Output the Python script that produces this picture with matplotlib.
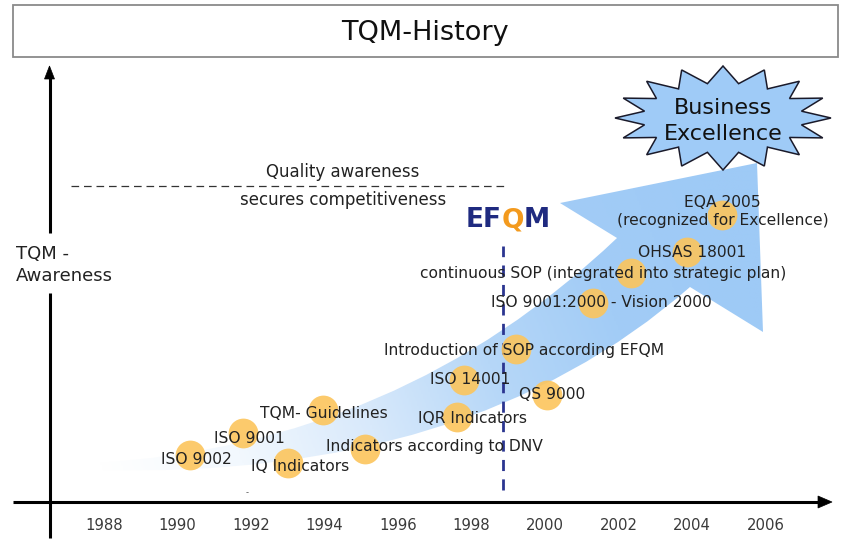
import numpy as np
import matplotlib
matplotlib.use("Agg")
import matplotlib.pyplot as plt
from matplotlib.patches import Rectangle, Polygon, PathPatch
from matplotlib.path import Path
from matplotlib.transforms import Affine2D
from matplotlib.colors import LinearSegmentedColormap

W, H = 864, 544
plt.rcParams["font.family"] = ["DejaVu Sans"]
plt.rcParams["lines.scale_dashes"] = False

# ---- data ---------------------------------------------------------------
TICK_YEARS = [1988, 1990, 1992, 1994, 1996, 1998, 2000, 2002, 2004, 2006]

EVENT_LABELS = [
    "ISO 9002", "ISO 9001", "IQ Indicators", "TQM- Guidelines",
    "Indicators according to DNV", "IQR Indicators", "ISO 14001", "QS 9000",
    "Introduction of SOP according EFQM", "ISO 9001:2000 - Vision 2000",
    "continuous SOP (integrated into strategic plan)", "OHSAS 18001",
    "EQA 2005\n(recognized for Excellence)",
]
EVENT_YEARS = [1990.35, 1991.8, 1993.0, 1993.95, 1995.1, 1997.6, 1997.8,
               2000.05, 1999.2, 2001.3, 2002.35, 2003.85, 2004.8]
EVENT_LEVELS = [1.18, 1.72, 0.98, 2.3, 1.33, 2.12, 3.05,
                2.68, 3.82, 4.98, 5.72, 6.25, 7.18]

EFQM_YEAR = 1998.85
EFQM_LEVELS = [0.3, 6.4]
AWARENESS_YEARS = [1987.1, 1998.9]
AWARENESS_TEXT_YEAR = 1994.5
AWARENESS_LEVEL = 7.9

# label offsets in pixels (dx right, dy down) relative to each circle
LABEL_OFFSETS = [(6, 5), (6, 5), (13, 4), (1, 3), (70, -2), (16, 1), (6, 0),
                 (5, 0), (8, 1), (9, 0), (-28, 0), (5, 0), (1, -3)]

# ---- layout: axes maps years / awareness onto the picture ----------------
PX_1997, PX_PER_YEAR = 434.7, 36.77
AXIS_PY, PX_PER_LEVEL = 502, 40.0


def to_data(x, y):
    return 1997 + (x - PX_1997) / PX_PER_YEAR, (AXIS_PY - y) / PX_PER_LEVEL


fig = plt.figure(figsize=(W / 100, H / 100), dpi=100)
ax = fig.add_axes([0, 0, 1, 1])
ax.axis("off")
PIX = Affine2D().scale(1, -1).translate(0, H)  # image pixel coords (y down)

TEXT = "#222222"

# title box
ax.add_patch(Rectangle((13, 5), 825, 52, transform=PIX, fc="white",
                       ec="#8a8a8a", lw=1.3, zorder=5))
ax.text(425, 33, "TQM-History", transform=PIX, ha="center", va="center",
        fontsize=19.5, color="#111111", zorder=6)

# big gradient arrow
verts = [(95, 463), (400, 445), (617, 238), (560, 203), (757, 163),
         (763, 332), (690, 287), (470, 480), (95, 470), (95, 463)]
codes = [Path.MOVETO, Path.CURVE3, Path.CURVE3, Path.LINETO, Path.LINETO,
         Path.LINETO, Path.LINETO, Path.CURVE3, Path.CURVE3, Path.CLOSEPOLY]
arrow_patch = PathPatch(Path(verts, codes), transform=PIX, fc="none",
                        ec="none")
ax.add_patch(arrow_patch)
gx0, gx1, gy0, gy1 = 60, 800, 140, 500
gx, gy = np.meshgrid(np.linspace(gx0, gx1, 400), np.linspace(gy1, gy0, 200))
d = np.array([720 - 100, 220 - 470], float)
t = ((gx - 100) * d[0] + (gy - 470) * d[1]) / (d @ d)
t = np.clip(t, 0, 1)
cmap = LinearSegmentedColormap.from_list(
    "tqm", ["#ffffff", "#f2f8fe", "#d8e9fb", "#b6d7f8", "#a2ccf6", "#9ecaf6"])
(x0, y0), (x1, y1) = to_data(gx0, gy1), to_data(gx1, gy0)
im = ax.imshow(t, cmap=cmap, vmin=0, vmax=1, origin="lower",
               extent=[x0, x1, y0, y1], aspect="auto", zorder=1)
im.set_clip_path(arrow_patch)

# star "Business Excellence"
n = 16
ang = np.deg2rad(90 + np.arange(2 * n) * 180 / n)
rx = np.where(np.arange(2 * n) % 2 == 0, 108, 80)
ry = np.where(np.arange(2 * n) % 2 == 0, 52, 35)
star = np.column_stack([723 + rx * np.cos(ang), 118 - ry * np.sin(ang)])
ax.add_patch(Polygon(star, closed=True, transform=PIX, fc="#9fcbf7",
                     ec="#1a1a2a", lw=1.1, zorder=5))
ax.text(723, 121, "Business\nExcellence", transform=PIX, ha="center",
        va="center", fontsize=16, linespacing=1.35, color="#111111", zorder=6)

# axes lines with arrows
ax.plot([13, 820], [502, 502], transform=PIX, color="black", lw=2.2,
        solid_capstyle="butt", zorder=2)
ax.add_patch(Polygon([(832, 502), (818, 496), (818, 508)], transform=PIX,
                     fc="black", ec="black", lw=0.5, zorder=2))
ax.plot([49.5, 49.5], [538, 293], transform=PIX, color="black", lw=2.2,
        solid_capstyle="butt", zorder=2)
ax.plot([49.5, 49.5], [233, 78], transform=PIX, color="black", lw=2.2,
        solid_capstyle="butt", zorder=2)
ax.add_patch(Polygon([(49.5, 66), (44.5, 79), (54.5, 79)], transform=PIX,
                     fc="black", ec="black", lw=0.5, zorder=2))
ax.text(16, 265, "TQM -\nAwareness", transform=PIX, ha="left", va="center",
        fontsize=13, linespacing=1.3, color=TEXT)

# year tick labels
for yr in TICK_YEARS:
    ax.annotate(str(yr), (yr, 0), xytext=(0, -23), textcoords="offset pixels",
                ha="center", va="center", fontsize=10.7, color="#3a3a3a")

# "quality awareness" threshold
ax.plot(AWARENESS_YEARS, [AWARENESS_LEVEL] * 2, color="#333333", lw=0.9,
        ls=(0, (5.5, 3.5)), zorder=2)
ax.annotate("Quality awareness", (AWARENESS_TEXT_YEAR, AWARENESS_LEVEL),
            xytext=(0, 14), textcoords="offset pixels", ha="center",
            va="center", fontsize=12, color=TEXT)
ax.annotate("secures competitiveness", (AWARENESS_TEXT_YEAR, AWARENESS_LEVEL),
            xytext=(0, -14), textcoords="offset pixels", ha="center",
            va="center", fontsize=12, color=TEXT)

# EFQM marker
ax.plot([EFQM_YEAR] * 2, EFQM_LEVELS, color="#2b3590", lw=2.0,
        ls=(0, (8, 6)), zorder=2)
NAVY, ORANGE = "#1f2a80", "#f39a1e"
for ch, dx, col in [("E", -41, NAVY), ("F", -24, NAVY), ("Q", -5, ORANGE),
                    ("M", 17, NAVY)]:
    ax.annotate(ch, (EFQM_YEAR, EFQM_LEVELS[1]), xytext=(dx + 4, 26),
                textcoords="offset pixels", ha="left", va="center",
                fontsize=19, fontweight="bold", color=col, zorder=4)

# events
ax.scatter(EVENT_YEARS, EVENT_LEVELS, s=460, color="#fcc55c", alpha=0.9,
           linewidths=0, zorder=3)
for lbl, yr, lv, (dx, dy) in zip(EVENT_LABELS, EVENT_YEARS, EVENT_LEVELS,
                                 LABEL_OFFSETS):
    ax.annotate(lbl, (yr, lv), xytext=(dx, -dy), textcoords="offset pixels",
                ha="center", va="center", fontsize=11.2, color=TEXT,
                linespacing=1.25, zorder=4)
ax.annotate("-", to_data(247, 493), ha="center", va="center", fontsize=6,
            color="#555555")

xa, ya = to_data(0, H)
xb, yb = to_data(W, 0)
ax.set_xlim(xa, xb)
ax.set_ylim(ya, yb)

fig.savefig("out.png", dpi=100, facecolor="white")
